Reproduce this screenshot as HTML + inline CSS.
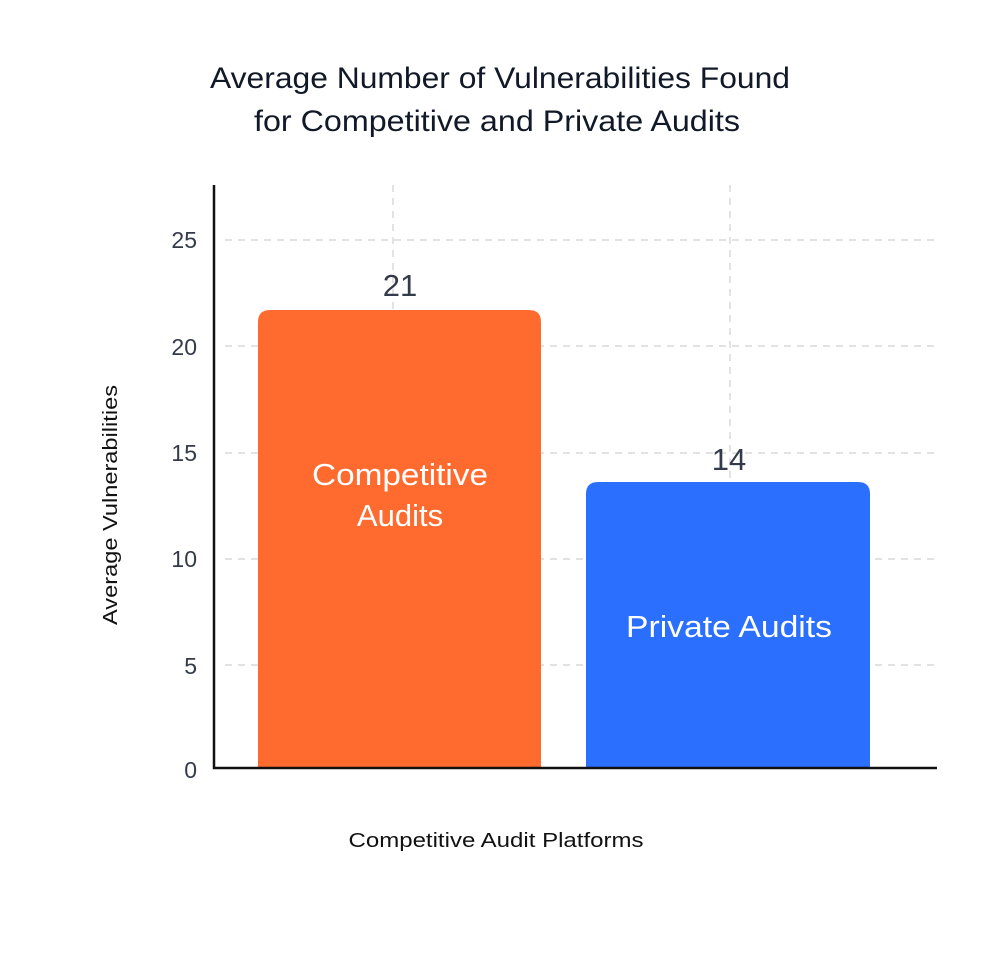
<!DOCTYPE html>
<html><head><meta charset="utf-8"><style>
html,body{margin:0;padding:0;background:#fff;}
</style></head><body>
<svg width="994" height="968" xmlns="http://www.w3.org/2000/svg" font-family="Liberation Sans, sans-serif">
<rect width="994" height="968" fill="#fff"/>
<text x="500" y="88" text-anchor="middle" font-size="30" fill="#111827" textLength="580" lengthAdjust="spacingAndGlyphs">Average Number of Vulnerabilities Found</text>
<text x="497" y="131" text-anchor="middle" font-size="30" fill="#111827" textLength="486" lengthAdjust="spacingAndGlyphs">for Competitive and Private Audits</text>
<g stroke="#d0d0d0" stroke-width="1.2" stroke-dasharray="7,6">
<line x1="225" y1="240" x2="937" y2="240"/>
<line x1="225" y1="346" x2="937" y2="346"/>
<line x1="225" y1="453" x2="937" y2="453"/>
<line x1="225" y1="559" x2="937" y2="559"/>
<line x1="225" y1="665" x2="937" y2="665"/>
<line x1="393" y1="185" x2="393" y2="768"/>
<line x1="730" y1="185" x2="730" y2="768"/>
</g>
<path d="M258 768 V322 Q258 310 270 310 H529 Q541 310 541 322 V768 Z" fill="#FF6B2F"/>
<path d="M586 768 V494 Q586 482 598 482 H858 Q870 482 870 494 V768 Z" fill="#2B6FFF"/>
<line x1="214" y1="185" x2="214" y2="769" stroke="#111" stroke-width="2.5"/>
<line x1="213" y1="768" x2="937" y2="768" stroke="#111" stroke-width="2.5"/>
<g font-size="23" fill="#333a4a" text-anchor="end">
<text x="197" y="778">0</text>
<text x="197" y="674">5</text>
<text x="197" y="567">10</text>
<text x="197" y="461">15</text>
<text x="197" y="355">20</text>
<text x="197" y="248">25</text>
</g>
<text x="400" y="296" text-anchor="middle" font-size="31" fill="#333a4a">21</text>
<text x="729" y="470" text-anchor="middle" font-size="31" fill="#333a4a">14</text>
<g fill="#fff" font-size="31" text-anchor="middle">
<text x="400" y="485" textLength="176" lengthAdjust="spacingAndGlyphs">Competitive</text>
<text x="400" y="526">Audits</text>
<text x="729" y="637" textLength="206" lengthAdjust="spacingAndGlyphs">Private Audits</text>
</g>
<text transform="translate(117,505) rotate(-90)" text-anchor="middle" font-size="20" fill="#111" textLength="240" lengthAdjust="spacingAndGlyphs">Average Vulnerabilities</text>
<text x="496" y="847" text-anchor="middle" font-size="20" fill="#111" textLength="295" lengthAdjust="spacingAndGlyphs">Competitive Audit Platforms</text>
</svg>
</body></html>
